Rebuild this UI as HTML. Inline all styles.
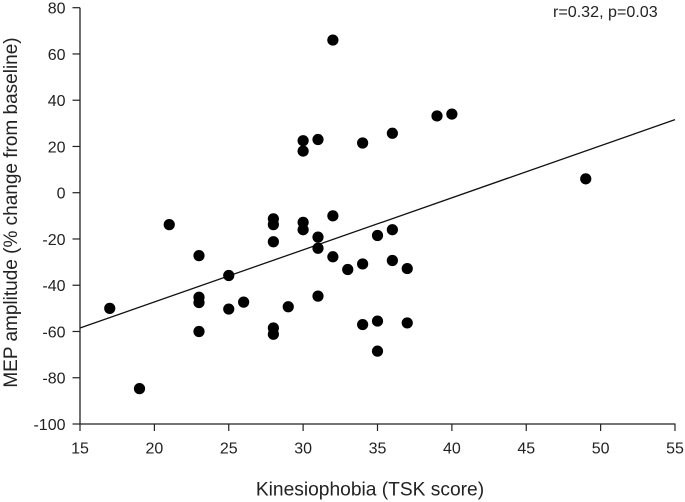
<!DOCTYPE html>
<html>
<head>
<meta charset="utf-8">
<style>
html,body{margin:0;padding:0;background:#fff;}
svg{display:block;filter:blur(0.35px);}
text{font-family:"Liberation Sans",Arial,sans-serif;fill:#222;}
</style>
</head>
<body>
<svg id="chart" xmlns="http://www.w3.org/2000/svg" width="685" height="502" viewBox="0 0 685 502"></svg>
<script>
const xTicks = [15, 20, 25, 30, 35, 40, 45, 50, 55];
const yTicks = [80, 60, 40, 20, 0, -20, -40, -60, -80, -100];
const kinesiophobia = [17, 19, 21, 23, 23, 23, 23, 25, 25, 26, 28, 28, 28, 28, 28, 29, 30, 30, 30, 30, 31, 31, 31, 31, 32, 32, 32, 33, 34, 34, 34, 35, 35, 35, 36, 36, 36, 37, 37, 39, 40, 49];
const mepChange = [-50, -84.7, -13.8, -27.2, -45.2, -47.5, -60, -35.8, -50.3, -47.3, -11.3, -13.8, -21.2, -58.5, -61.2, -49.3, 22.5, 18, -12.8, -16, 23, -19.2, -24, -44.7, 66, -10, -27.7, -33.2, 21.5, -30.8, -57, -18.5, -55.5, -68.5, 25.7, -16, -29.3, -32.8, -56.3, 33.2, 34, 6];
const trendX = [15, 55];
const trendY = [-58.5, 31.6];

const svg = document.getElementById('chart');
const NS = 'http://www.w3.org/2000/svg';
const sx = v => 80 + (v - 15) * (675 - 80) / 40;
const sy = v => 7.7 + (80 - v) * (424 - 7.7) / 180;

function add(tag, attrs, parent) {
  const el = document.createElementNS(NS, tag);
  for (const k in attrs) el.setAttribute(k, attrs[k]);
  (parent || svg).appendChild(el);
  return el;
}

// Trend line
const trend = add('line', {x1: sx(trendX[0]), y1: sy(trendY[0]), x2: sx(trendX[1]), y2: sy(trendY[1]), stroke: '#111', 'stroke-width': 1.3});



// Axes
const yAxis = add('line', {x1: 80, y1: sy(80), x2: 80, y2: sy(-100) + 0.7, stroke: '#222', 'stroke-width': 1.3});


const xAxis = add('line', {x1: 80, y1: sy(-100), x2: 675.5, y2: sy(-100), stroke: '#222', 'stroke-width': 1.3});



yTicks.forEach(v => {
  const tick = add('line', {x1: 72.5, y1: sy(v), x2: 80, y2: sy(v), stroke: '#222', 'stroke-width': 1.2});
  
  
  const label = add('text', {x: 65.5, y: sy(v) + 5.8, 'text-anchor': 'end', 'font-size': 16});
  
  
  label.textContent = v;
});

xTicks.forEach(v => {
  const tick = add('line', {x1: sx(v), y1: sy(-100), x2: sx(v), y2: sy(-100) + 7, stroke: '#222', 'stroke-width': 1.2});
  
  
  const label = add('text', {x: sx(v), y: 453.5, 'text-anchor': 'middle', 'font-size': 16});
  
  
  label.textContent = v;
});

// Points
kinesiophobia.forEach((x, i) => {
  const pt = add('circle', {cx: sx(x), cy: sy(mepChange[i]), r: 5.6, fill: '#000'});
  
  
});

// Titles
const xTitle = add('text', {x: 370, y: 495.5, 'text-anchor': 'middle', 'font-size': 19.2});


xTitle.textContent = 'Kinesiophobia (TSK score)';

const yTitle = add('text', {x: 0, y: 0, 'text-anchor': 'middle', 'font-size': 19, transform: 'translate(17 212.5) rotate(-90)'});


yTitle.textContent = 'MEP amplitude (% change from baseline)';

const stat = add('text', {x: 553, y: 17, 'font-size': 16.1});


stat.textContent = 'r=0.32, p=0.03';
</script>
</body>
</html>
